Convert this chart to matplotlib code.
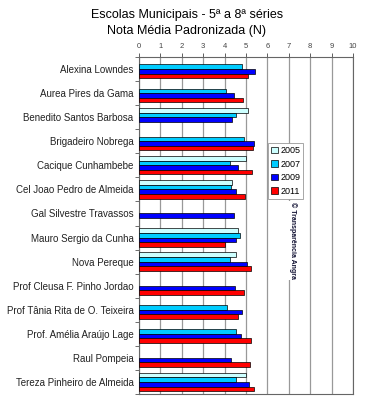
import numpy as np
import matplotlib
matplotlib.use("Agg")
import matplotlib.pyplot as plt
from matplotlib.ticker import FixedLocator

plt.rcParams['font.family'] = ['Liberation Sans', 'DejaVu Sans']

schools = [
    "Alexina Lowndes", "Aurea Pires da Gama", "Benedito Santos Barbosa",
    "Brigadeiro Nobrega", "Cacique Cunhambebe", "Cel Joao Pedro de Almeida",
    "Gal Silvestre Travassos", "Mauro Sergio da Cunha", "Nova Pereque",
    "Prof Cleusa F. Pinho Jordao", "Prof Tânia Rita de O. Teixeira",
    "Prof. Amélia Araújo Lage", "Raul Pompeia", "Tereza Pinheiro de Almeida",
]
years = ["2005", "2007", "2009", "2011"]
nan = np.nan
v2005 = [nan, nan, 5.09, nan, 4.98, 4.36, nan, 4.64, 4.52, nan, nan, nan, nan, 5.00]
v2007 = [4.80, 4.05, 4.55, 4.92, 4.25, 4.28, nan, 4.70, 4.27, nan, 4.10, 4.55, nan, 4.52]
v2009 = [5.42, 4.42, 4.33, 5.39, 4.64, 4.52, 4.44, 4.52, 5.03, 4.49, 4.81, 4.77, 4.30, 5.14]
v2011 = [5.11, 4.84, nan, 5.34, 5.28, 4.94, nan, 4.00, 5.22, 4.89, 4.61, 5.25, 5.17, 5.36]
series = [v2005, v2007, v2009, v2011]
colors = ["#CCFFFF", "#00CCFF", "#0000FF", "#FF0000"]

fig = plt.figure(figsize=(3.65, 4.0), dpi=100)
ax = fig.add_axes([0.381, 0.015, 0.586, 0.8425])

n = len(schools)
pos = np.arange(n)
h = 0.19
for i, (vals, c, yr) in enumerate(zip(series, colors, years)):
    ax.barh(pos + (i - 1.5) * h, vals, height=h, color=c, edgecolor="black",
            linewidth=0.5, label=yr, zorder=3)

ax.set_xlim(0, 10)
ax.set_ylim(n - 0.5, -0.5)
ax.set_xticks(range(11))
ax.xaxis.tick_top()
ax.tick_params(axis='x', labelsize=5.5, colors="#444444", length=3, width=0.6, pad=2)
ax.grid(axis='x', color="#999999", linewidth=0.9, zorder=0)

ax.set_yticks(pos)
ax.set_yticklabels(schools, fontsize=7.0, color="#222222")
ax.tick_params(axis='y', which='major', length=0, pad=4)
ax.yaxis.set_minor_locator(FixedLocator(np.arange(-0.5, n, 1.0)))
ax.tick_params(axis='y', which='minor', length=3, width=0.6, color="#555555")

for s in ax.spines.values():
    s.set_color("#666666")
    s.set_linewidth(0.8)

fig.text(0.512, 0.978, "Escolas Municipais - 5ª a 8ª séries\nNota Média Padronizada (N)",
         ha="center", va="top", fontsize=9.0, linespacing=1.45)

leg = ax.legend(loc="upper left", bbox_to_anchor=(0.603, 0.745), fontsize=6.5,
                frameon=True, fancybox=False, edgecolor="#999999",
                handlelength=0.7, handleheight=0.7, handletextpad=0.3,
                borderpad=0.35, labelspacing=0.5, borderaxespad=0, framealpha=1)
leg.get_frame().set_linewidth(0.6)
leg.set_zorder(5)

fig.text(0.803, 0.495, "© Transparência Angra", rotation=270, fontsize=5,
         fontweight="bold", color="#111133", ha="center", va="top",
         bbox=dict(facecolor="white", edgecolor="none", pad=0.5), zorder=6)

fig.savefig("out.png", dpi=100)
